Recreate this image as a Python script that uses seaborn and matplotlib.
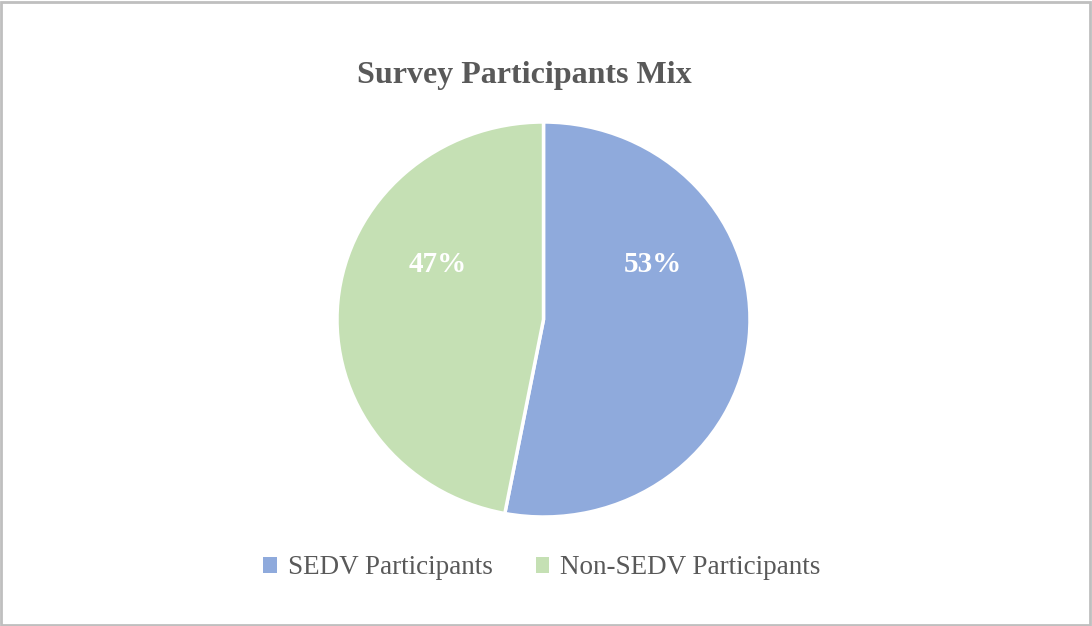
import matplotlib
matplotlib.use("Agg")
import matplotlib.pyplot as plt
from matplotlib.patches import Rectangle
import seaborn as sns

# Chart data
categories = ["SEDV Participants", "Non-SEDV Participants"]
shares = [53, 47]
colors = ["#8FAADC", "#C5E0B4"]

sns.set_theme(style="white")
plt.rcParams['font.family'] = ['Liberation Serif', 'DejaVu Serif']

W, H = 1092, 626
fig = plt.figure(figsize=(W / 100, H / 100), dpi=100)

# pie axes: centre (543, 320) px, the source image is a bit stretched sideways
cx, cy, rx, ry = 543.5, 319.5, 206.5, 197.5
ax = fig.add_axes([(cx - rx) / W, (H - cy - ry) / H, 2 * rx / W, 2 * ry / H])

wedges, texts, autotexts = ax.pie(
    shares,
    colors=sns.color_palette(colors),
    startangle=90,
    counterclock=False,
    radius=1,
    autopct='%1.0f%%',
    pctdistance=0.55,
    wedgeprops=dict(edgecolor='white', linewidth=2.5),
    textprops=dict(color='white', fontsize=21, fontweight='bold'),
)
ax.set_xlim(-1.0, 1.0)
ax.set_ylim(-1.0, 1.0)
ax.set_aspect('auto')
ax.axis('off')

# Excel puts the labels in the upper half of each slice
label_pos = [(0.53, 0.28), (-0.51, 0.28)]
for t, (x, y) in zip(autotexts, label_pos):
    t.set_position((x, y))
    t.set_ha('center')
    t.set_va('center')

fig.text(524 / W, 1 - 75 / H, "Survey Participants Mix", ha='center', va='center',
         fontsize=23, fontweight='bold', color='#595959')

leg = fig.legend(wedges, categories, loc='center', bbox_to_anchor=(542 / W, 1 - 568 / H),
                 ncol=2, frameon=False, fontsize=19.5, handlelength=0.5, handleheight=0.5,
                 handletextpad=0.4, columnspacing=1.6, labelcolor='#595959')
for h in leg.legend_handles:
    h.set_edgecolor('none')

# chart frame
fig.patches.append(Rectangle((0.001, 0.001), 0.997, 0.996, transform=fig.transFigure,
                             fill=False, edgecolor='#BFBFBF', linewidth=2))

fig.savefig("out.png", dpi=100, facecolor='white')
